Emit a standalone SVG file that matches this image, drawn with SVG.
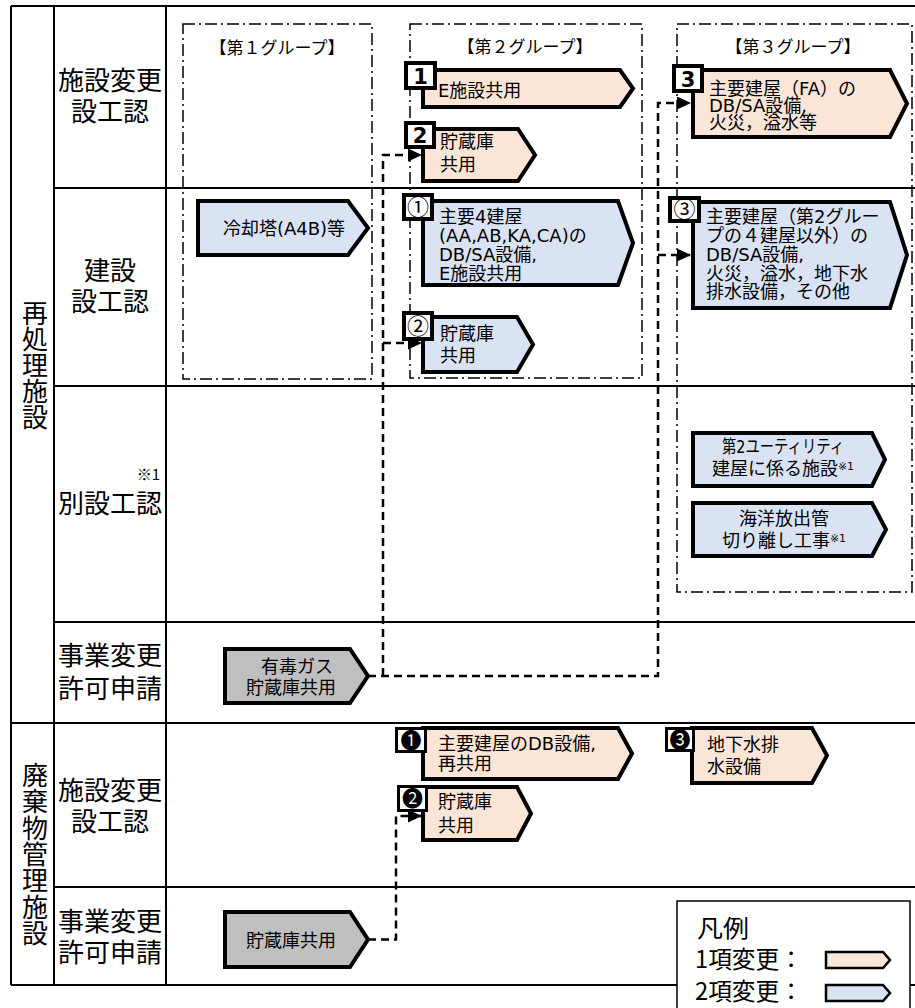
<svg xmlns="http://www.w3.org/2000/svg" width="915" height="1008" viewBox="0 0 915 1008">
<style>
.grid{stroke:#000;stroke-width:2;fill:none}
.grp{stroke:#000;stroke-width:1.5;fill:none;stroke-dasharray:12 4 2 4}
.con{stroke:#000;stroke-width:2.5;fill:none;stroke-dasharray:8 5}
.nd{stroke:#000;stroke-width:4;stroke-linejoin:miter}
.p{fill:#FBE5D6}
.b{fill:#DAE3F3}
.g{fill:#BFBFBF}
.bd{fill:#fff;stroke:#000;stroke-width:4}
.bd2{fill:#fff;stroke:#000;stroke-width:3}
.lbl{font-family:'Noto Sans CJK JP',sans-serif;font-size:26px;fill:#000}
.vert{writing-mode:vertical-rl}
.t{font-family:'DejaVu Sans','Noto Sans CJK JP',sans-serif;font-size:18px;fill:#000}
.tt{font-family:'Noto Sans CJK JP',sans-serif;font-size:17px;fill:#000}
.num{font-family:'DejaVu Sans','Noto Sans CJK JP',sans-serif;font-size:21px;font-weight:bold;fill:#000}
.cnum{font-family:'Noto Sans CJK JP','DejaVu Sans',sans-serif;font-size:22px;fill:#000}
.bnum{font-family:'Noto Sans CJK JP','DejaVu Sans',sans-serif;font-size:21px;fill:#000}
.sup{font-size:11px}
.leg{font-family:'Noto Sans CJK JP',sans-serif;font-size:24px;fill:#000}
</style>
<defs>
<marker id="arr" markerWidth="14" markerHeight="13" refX="13" refY="6.5" orient="auto" markerUnits="userSpaceOnUse"><path d="M0,0 L14,6.5 L0,13 Z" fill="#000"/></marker>
</defs>
<rect width="915" height="1008" fill="#fff"/>

<g id="grid">
<path class="grid" d="M11,6 H915 M11,6 V985 M54,6 V985 M166,6 V985 M11,985 H915 M54,188 H915 M54,386 H915 M54,622 H915 M11,723 H915 M54,887 H915"/>
</g>

<g id="row-labels">
<text class="lbl vert" x="35" y="300">再処理施設</text>
<text class="lbl vert" x="35" y="762" letter-spacing="0.4">廃棄物管理施設</text>
<g class="lbl" text-anchor="middle">
<text x="110" y="90">施設変更</text><text x="110" y="121">設工認</text>
<text x="110" y="280">建設</text><text x="110" y="311">設工認</text>
<text x="110" y="513">別設工認</text>
<text x="110" y="665">事業変更</text><text x="110" y="698">許可申請</text>
<text x="110" y="800">施設変更</text><text x="110" y="831">設工認</text>
<text x="110" y="931">事業変更</text><text x="110" y="962">許可申請</text>
</g>
<text x="160" y="480" text-anchor="end" style="font-family:'Noto Sans CJK JP',sans-serif;font-size:15px">※1</text>
</g>

<g id="groups">
<rect class="grp" x="183" y="24" width="189" height="355"/>
<rect class="grp" x="410" y="24" width="232" height="354"/>
<rect class="grp" x="677" y="24" width="235" height="568"/>
<g class="tt" text-anchor="middle">
<text x="277" y="54">【第１グループ】</text>
<text x="525" y="53">【第２グループ】</text>
<text x="793" y="53">【第３グループ】</text>
</g>
</g>

<g id="connectors">
<path class="con" d="M368,676 H658 V103 H690" marker-end="url(#arr)"/>
<path class="con" d="M658,255 H690" marker-end="url(#arr)"/>
<path class="con" d="M383,676 V155 H421" marker-end="url(#arr)"/>
<path class="con" d="M383,343 H421" marker-end="url(#arr)"/>
<path class="con" d="M368,939.5 H396 V816 H421" marker-end="url(#arr)"/>
</g>

<g id="n1">
<path class="nd p" d="M423,70 H620 L633,88.5 L620,107 H423 Z"/>
<text class="t" x="438" y="97">E施設共用</text>
<rect class="bd" x="406" y="63" width="29" height="25"/>
<text class="num" x="420.5" y="84" text-anchor="middle">1</text>
</g>

<g id="n2">
<path class="nd p" d="M423,129 H518 L535,155 L518,181 H423 Z"/>
<text class="t" x="440" y="148">貯蔵庫</text>
<text class="t" x="440" y="171">共用</text>
<rect class="bd" x="406" y="123" width="28" height="24"/>
<text class="num" x="420" y="143" text-anchor="middle">2</text>
</g>

<g id="n3">
<path class="nd p" d="M693,70 H890 L907,103.5 L890,137 H693 Z"/>
<text class="t" x="709" y="95">主要建屋（FA）の</text>
<text class="t" x="709" y="112">DB/SA設備,</text>
<text class="t" x="709" y="129">火災，溢水等</text>
<rect class="bd" x="674" y="66" width="28" height="25"/>
<text class="num" x="688" y="87" text-anchor="middle">3</text>
</g>

<g id="c1">
<path class="nd b" d="M423,201 H618 L633,243 L618,285 H423 Z"/>
<text class="t" x="439" y="223">主要4建屋</text>
<text class="t" x="439" y="242">(AA,AB,KA,CA)の</text>
<text class="t" x="439" y="261">DB/SA設備,</text>
<text class="t" x="439" y="280">E施設共用</text>
<rect class="bd" x="404" y="195" width="28" height="24"/>
<text class="cnum" x="418" y="215" text-anchor="middle">①</text>
</g>

<g id="c2">
<path class="nd b" d="M423,317 H517 L533,344.5 L517,372 H423 Z"/>
<text class="t" x="440" y="340">貯蔵庫</text>
<text class="t" x="440" y="362">共用</text>
<rect class="bd" x="404" y="313" width="28" height="26"/>
<text class="cnum" x="418" y="334" text-anchor="middle">②</text>
</g>

<g id="c3">
<path class="nd b" d="M693,202 H890 L907,255 L890,308 H693 Z"/>
<text class="t" x="706" y="223">主要建屋（第2グルー</text>
<text class="t" x="706" y="242">プの４建屋以外）の</text>
<text class="t" x="706" y="261">DB/SA設備,</text>
<text class="t" x="706" y="280">火災，溢水，地下水</text>
<text class="t" x="706" y="298">排水設備，その他</text>
<rect class="bd" x="670" y="198" width="29" height="23"/>
<text class="cnum" x="684.5" y="217" text-anchor="middle">③</text>
</g>

<g id="cooling">
<path class="nd b" d="M198,201 H348 L368,228 L348,255 H198 Z"/>
<text class="t" x="284" y="235" text-anchor="middle">冷却塔(A4B)等</text>
</g>

<g id="utility2">
<path class="nd b" d="M693,433 H872 L885,459.5 L872,486 H693 Z"/>
<text class="t" x="783" y="453" text-anchor="middle" textLength="122" lengthAdjust="spacingAndGlyphs">第2ユーティリティ</text>
<text class="t" x="783" y="475" text-anchor="middle">建屋に係る施設<tspan class="sup" dy="-5">※1</tspan></text>
</g>

<g id="outfall">
<path class="nd b" d="M693,503 H872 L886,529.5 L872,556 H693 Z"/>
<text class="t" x="784" y="525" text-anchor="middle">海洋放出管</text>
<text class="t" x="784" y="547" text-anchor="middle">切り離し工事<tspan class="sup" dy="-5">※1</tspan></text>
</g>

<g id="toxic">
<path class="nd g" d="M225,649 H350 L368,676 L350,703 H225 Z"/>
<text class="t" x="297" y="673" text-anchor="middle">有毒ガス</text>
<text class="t" x="291" y="694" text-anchor="middle">貯蔵庫共用</text>
</g>

<g id="storage-permit">
<path class="nd g" d="M225,912 H350 L368,939.5 L350,967 H225 Z"/>
<text class="t" x="291" y="947" text-anchor="middle">貯蔵庫共用</text>
</g>

<g id="w1">
<path class="nd p" d="M423,728 H618 L632,753.5 L618,779 H423 Z"/>
<text class="t" x="438" y="750">主要建屋のDB設備,</text>
<text class="t" x="438" y="770">再共用</text>
<rect class="bd2" x="396.5" y="728.5" width="29" height="23"/>
<text class="bnum" x="411" y="748" text-anchor="middle">❶</text>
</g>

<g id="w2">
<path class="nd p" d="M423,787 H517 L531,813.5 L517,840 H423 Z"/>
<text class="t" x="438" y="808">貯蔵庫</text>
<text class="t" x="438" y="832">共用</text>
<rect class="bd2" x="398.5" y="786.5" width="28" height="24"/>
<text class="bnum" x="412.5" y="806" text-anchor="middle">❷</text>
</g>

<g id="w3">
<path class="nd p" d="M692,728 H812 L827,755.5 L812,783 H692 Z"/>
<text class="t" x="707" y="751">地下水排</text>
<text class="t" x="707" y="773">水設備</text>
<rect class="bd2" x="666.5" y="728.5" width="27" height="22"/>
<text class="bnum" x="680" y="747" text-anchor="middle">❸</text>
</g>

<g id="legend">
<rect x="677" y="901" width="233" height="130" fill="#fff" stroke="#000" stroke-width="1.5"/>
<text class="leg" x="697" y="937" textLength="52" lengthAdjust="spacingAndGlyphs">凡例</text>
<text class="leg" x="695" y="968" textLength="108" lengthAdjust="spacingAndGlyphs">1項変更：</text>
<text class="leg" x="695" y="1000" textLength="108" lengthAdjust="spacingAndGlyphs">2項変更：</text>
<path d="M826,952 H883 L890,960 L883,968 H826 Z" fill="#FBE5D6" stroke="#000" stroke-width="2.5"/>
<path d="M826,985 H883 L890,993 L883,1001 H826 Z" fill="#DAE3F3" stroke="#000" stroke-width="2.5"/>
</g>
</svg>
